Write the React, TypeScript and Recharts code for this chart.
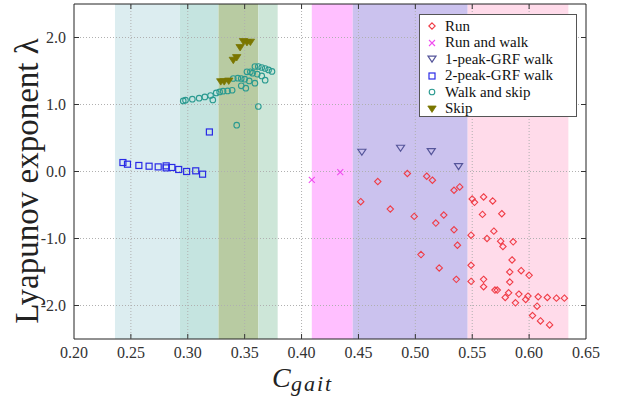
import React from 'react';
import {
  ScatterChart, Scatter, XAxis, YAxis, ReferenceArea, ReferenceLine,
} from 'recharts';

type P = { x: number; y: number };
const pts = (a: number[][]): P[] => a.map(([x, y]) => ({ x, y }));

const run: P[] = pts([
  [0.493, -0.03], [0.467, -0.15], [0.510, -0.07], [0.515, -0.13], [0.534, -0.28], [0.539, -0.23],
  [0.452, -0.45], [0.478, -0.56], [0.499, -0.67], [0.525, -0.65], [0.518, -0.77], [0.534, -0.87],
  [0.537, -1.10], [0.505, -1.24], [0.521, -1.44], [0.536, -1.61],
  [0.550, -0.41], [0.552, -0.46], [0.560, -0.38], [0.568, -0.44], [0.559, -0.64], [0.576, -0.63],
  [0.569, -0.89], [0.549, -0.95], [0.563, -1.00], [0.575, -1.04], [0.577, -1.12], [0.586, -1.05],
  [0.585, -1.32], [0.549, -1.40], [0.583, -1.50], [0.593, -1.48], [0.600, -1.55], [0.549, -1.64],
  [0.560, -1.61], [0.560, -1.72], [0.583, -1.65], [0.570, -1.77], [0.572, -1.77], [0.582, -1.81],
  [0.579, -1.88], [0.591, -1.83], [0.599, -1.86], [0.597, -1.91], [0.608, -1.87], [0.616, -1.88],
  [0.624, -1.89], [0.631, -1.89], [0.588, -1.96], [0.607, -2.01], [0.603, -2.15], [0.610, -2.23],
  [0.618, -2.29],
]);

const runAndWalk: P[] = pts([[0.409, -0.125], [0.434, -0.01]]);

const onePeakWalk: P[] = pts([[0.453, 0.29], [0.487, 0.35], [0.514, 0.30], [0.538, 0.075]]);

const twoPeakWalk: P[] = pts([
  [0.243, 0.134], [0.247, 0.109], [0.257, 0.09], [0.266, 0.079], [0.274, 0.069], [0.281, 0.084],
  [0.281, 0.054], [0.286, 0.06], [0.292, 0.03], [0.299, 0.0], [0.307, 0.01], [0.313, -0.04],
  [0.319, 0.59],
]);

const walkAndSkip: P[] = pts([
  [0.296, 1.054], [0.298, 1.064], [0.304, 1.079], [0.310, 1.094], [0.315, 1.113], [0.320, 1.134],
  [0.322, 1.069], [0.325, 1.173], [0.328, 1.188], [0.331, 1.199], [0.335, 1.203], [0.339, 1.213],
  [0.340, 1.388], [0.344, 1.393], [0.347, 1.388], [0.350, 1.378], [0.347, 1.278], [0.351, 1.243],
  [0.354, 1.352], [0.359, 1.318], [0.352, 1.487], [0.355, 1.487], [0.357, 1.467], [0.359, 1.567],
  [0.362, 1.567], [0.365, 1.552], [0.368, 1.537], [0.371, 1.516], [0.374, 1.493], [0.361, 1.452],
  [0.365, 1.427], [0.368, 1.363], [0.362, 0.970], [0.343, 0.691],
]);

const skip: P[] = pts([
  [0.329, 1.34], [0.332, 1.34], [0.336, 1.35], [0.340, 1.66], [0.343, 1.70], [0.346, 1.85],
  [0.349, 1.94], [0.352, 1.925], [0.355, 1.93],
]);

const xTicks = [0.2, 0.25, 0.3, 0.35, 0.4, 0.45, 0.5, 0.55, 0.6, 0.65];
const yTicks = [-2, -1, 0, 1, 2];
const xDomain: [number, number] = [0.2, 0.65];
const yDomain: [number, number] = [-2.5, 2.5];

const bands = [
  { x1: 0.236, x2: 0.293, color: '#dcedf0' },
  { x1: 0.293, x2: 0.327, color: '#c5e4e0' },
  { x1: 0.327, x2: 0.362, color: '#b8cba2' },
  { x1: 0.362, x2: 0.379, color: '#cde6d8' },
  { x1: 0.409, x2: 0.445, color: '#ffbfff' },
  { x1: 0.445, x2: 0.546, color: '#cbc2ee' },
  { x1: 0.546, x2: 0.6345, color: '#ffdbea' },
];

const SERIF = '"Liberation Serif", "Times New Roman", serif';

const COL = {
  run: '#f03c46',
  rw: '#f04cf0',
  one: '#55559a',
  two: '#2a2ae6',
  ws: '#2a9a90',
  skip: '#7a7600',
};

type Kind = 'diamond' | 'x' | 'tri' | 'square' | 'circle' | 'triFill';

const Marker = ({ kind, cx, cy, color }: { kind: Kind; cx: number; cy: number; color: string }) => {
  switch (kind) {
    case 'diamond':
      return <path d={`M${cx},${cy - 3.2}L${cx + 3.2},${cy}L${cx},${cy + 3.2}L${cx - 3.2},${cy}Z`} fill="none" stroke={color} strokeWidth={1.1} />;
    case 'x':
      return <path d={`M${cx - 3},${cy - 3}L${cx + 3},${cy + 3}M${cx - 3},${cy + 3}L${cx + 3},${cy - 3}`} stroke={color} strokeWidth={1.1} />;
    case 'tri':
      return <path d={`M${cx - 4},${cy - 2.8}L${cx + 4},${cy - 2.8}L${cx},${cy + 3.2}Z`} fill="none" stroke={color} strokeWidth={1.2} />;
    case 'triFill':
      return <path d={`M${cx - 4.2},${cy - 3}L${cx + 4.2},${cy - 3}L${cx},${cy + 3.4}Z`} fill={color} stroke={color} strokeWidth={0.8} />;
    case 'square':
      return <rect x={cx - 3} y={cy - 3} width={6} height={6} fill="none" stroke={color} strokeWidth={1.2} />;
    case 'circle':
    default:
      return <circle cx={cx} cy={cy} r={2.8} fill="none" stroke={color} strokeWidth={1.1} />;
  }
};

const shapeOf = (kind: Kind, color: string) => (props: any) =>
  <Marker kind={kind} cx={props.cx} cy={props.cy} color={color} />;

const series = [
  { name: 'Run', data: run, kind: 'diamond' as Kind, color: COL.run },
  { name: 'Run and walk', data: runAndWalk, kind: 'x' as Kind, color: COL.rw },
  { name: '1-peak-GRF walk', data: onePeakWalk, kind: 'tri' as Kind, color: COL.one },
  { name: '2-peak-GRF walk', data: twoPeakWalk, kind: 'square' as Kind, color: COL.two },
  { name: 'Walk and skip', data: walkAndSkip, kind: 'circle' as Kind, color: COL.ws },
  { name: 'Skip', data: skip, kind: 'triFill' as Kind, color: COL.skip },
];

const XTick = (props: any) => {
  const { x, y, payload } = props;
  return (
    <text x={x} y={y + 11} textAnchor="middle" style={{ fontFamily: SERIF, fontSize: 16 }} fill="#333">
      {Number(payload.value).toFixed(2)}
    </text>
  );
};

const YTick = (props: any) => {
  const { x, y, payload } = props;
  return (
    <text x={x} y={y + 5.5} textAnchor="end" style={{ fontFamily: SERIF, fontSize: 16 }} fill="#333">
      {Number(payload.value).toFixed(1)}
    </text>
  );
};

const YLabel = () => (
  <text x={38} y={181} transform="rotate(-90, 38, 181)" textAnchor="middle"
    style={{ fontFamily: SERIF, fontSize: 33 }} fill="#222">Lyapunov exponent λ</text>
);

const XLabel = () => (
  <g fill="#222">
    <text x={272} y={387} style={{ fontFamily: SERIF, fontSize: 28, fontStyle: 'italic' }}>C</text>
    <text x={291} y={391} style={{ fontFamily: SERIF, fontSize: 22, fontStyle: 'italic', letterSpacing: 2 }}>gait</text>
  </g>
);

const tickLenY = 0.075;
const tickLenX = 0.0044;

export default function App() {
  return (
    <div style={{ position: 'absolute', left: 0, top: 0, width: 619, height: 399, background: '#fff' }}>
      <ScatterChart width={619} height={399} margin={{ top: 4, right: 33, left: 0, bottom: 0 }}>
        <XAxis type="number" dataKey="x" domain={xDomain} ticks={xTicks} allowDataOverflow
          height={60} axisLine={false} tickLine={false} interval={0} tick={<XTick />} />
        <YAxis type="number" dataKey="y" domain={yDomain} ticks={yTicks} allowDataOverflow
          width={74} axisLine={false} tickLine={false} interval={0} tick={<YTick />} />
        {bands.map((b, i) => (
          <ReferenceArea key={'b' + i} x1={b.x1} x2={b.x2} y1={yDomain[0]} y2={yDomain[1]}
            fill={b.color} fillOpacity={1} stroke="none" />
        ))}
        {xTicks.slice(1, -1).map((t) => (
          <ReferenceLine key={'gx' + t} x={t} stroke="#b0b0b0" strokeDasharray="1 2" />
        ))}
        {yTicks.map((t) => (
          <ReferenceLine key={'gy' + t} y={t} stroke="#b0b0b0" strokeDasharray="1 2" />
        ))}
        {xTicks.slice(1, -1).map((t) => (
          <ReferenceLine key={'tt' + t} segment={[{ x: t, y: yDomain[1] }, { x: t, y: yDomain[1] - tickLenY }]} stroke="#333" />
        ))}
        {xTicks.slice(1, -1).map((t) => (
          <ReferenceLine key={'tb' + t} segment={[{ x: t, y: yDomain[0] }, { x: t, y: yDomain[0] + tickLenY }]} stroke="#333" />
        ))}
        {yTicks.map((t) => (
          <ReferenceLine key={'tr' + t} segment={[{ x: xDomain[1], y: t }, { x: xDomain[1] - tickLenX, y: t }]} stroke="#333" />
        ))}
        {yTicks.map((t) => (
          <ReferenceLine key={'tl' + t} segment={[{ x: xDomain[0], y: t }, { x: xDomain[0] + tickLenX, y: t }]} stroke="#333" />
        ))}
        <ReferenceArea x1={xDomain[0]} x2={xDomain[1]} y1={yDomain[0]} y2={yDomain[1]}
          fill="none" stroke="#222" strokeWidth={1} />
        {series.map((s) => (
          <Scatter key={s.name} name={s.name} data={s.data} isAnimationActive={false}
            shape={shapeOf(s.kind, s.color)} />
        ))}
        <YLabel />
        <XLabel />
      </ScatterChart>
      <div style={{
        position: 'absolute', left: 419, top: 14, width: 158, height: 103,
        background: '#fff', border: '1px solid #555', boxSizing: 'border-box',
        padding: '3px 0 0 0', fontFamily: SERIF, fontSize: 15, color: '#111',
      }}>
        {series.map((s) => (
          <div key={s.name} style={{ height: 16.5, display: 'flex', alignItems: 'center' }}>
            <svg width={24} height={16} style={{ flex: 'none' }}>
              <Marker kind={s.kind} cx={12} cy={8} color={s.color} />
            </svg>
            <span style={{ marginLeft: 1, whiteSpace: 'nowrap' }}>{s.name}</span>
          </div>
        ))}
      </div>
    </div>
  );
}
